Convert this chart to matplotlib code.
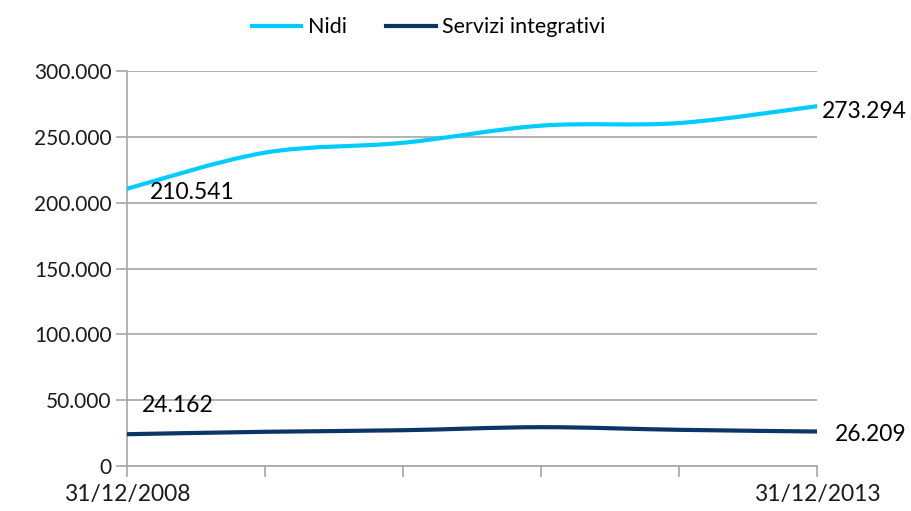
import numpy as np
import matplotlib.pyplot as plt
from matplotlib.path import Path
from matplotlib.patches import PathPatch
from matplotlib.lines import Line2D
import matplotlib.ticker as mtick

anni = ['31/12/2008', '31/12/2009', '31/12/2010', '31/12/2011', '31/12/2012', '31/12/2013']
nidi = [210541, 238000, 245500, 258500, 260500, 273294]
servizi = [24162, 26000, 27200, 29500, 27500, 26209]

col_nidi = '#00CCFF'
col_servizi = '#0B3566'
grigio = '#A6A6A6'

plt.rcParams['font.family'] = ['Lato', 'DejaVu Sans']


def smooth_path(x, y):
    # curva tipo Excel (Catmull-Rom -> Bezier cubiche)
    x = np.asarray(x, float)
    y = np.asarray(y, float)
    pts = np.column_stack([x, y])
    verts = [pts[0]]
    codes = [Path.MOVETO]
    n = len(pts)
    for i in range(n - 1):
        p0 = pts[i - 1] if i > 0 else pts[i]
        p1 = pts[i]
        p2 = pts[i + 1]
        p3 = pts[i + 2] if i + 2 < n else pts[i + 1]
        c1 = p1 + (p2 - p0) / 6
        c2 = p2 - (p3 - p1) / 6
        verts += [c1, c2, p2]
        codes += [Path.CURVE4] * 3
    return Path(verts, codes)


fig = plt.figure(figsize=(9.12, 5.11), dpi=100)
ax = fig.add_axes([0.139, 0.088, 0.757, 0.773])

x = np.arange(len(anni))
for serie, col in [(nidi, col_nidi), (servizi, col_servizi)]:
    ax.add_patch(PathPatch(smooth_path(x, serie), facecolor='none', edgecolor=col,
                           lw=3, capstyle='round', zorder=3))

ax.set_xlim(0, len(anni) - 1)
ax.set_ylim(0, 300000)
ax.set_yticks(np.arange(0, 300001, 50000))
ax.yaxis.set_major_formatter(mtick.FuncFormatter(lambda v, p: f'{v:,.0f}'.replace(',', '.')))
ax.set_xticks(x)
ax.set_xticklabels([a if i in (0, len(anni) - 1) else '' for i, a in enumerate(anni)])

ax.yaxis.grid(True, color=grigio, lw=1.2)
ax.set_axisbelow(True)
for s in ['top', 'right']:
    ax.spines[s].set_visible(False)
for s in ['left', 'bottom']:
    ax.spines[s].set_color(grigio)
    ax.spines[s].set_linewidth(1.2)
ax.tick_params(axis='both', colors=grigio, length=8, width=1.2, labelcolor='#1a1a1a')
ax.tick_params(axis='y', pad=3, labelsize=15)
ax.tick_params(axis='x', pad=5, labelsize=16.5)

# etichette dati
lab = lambda v: f'{v:,}'.replace(',', '.')
fs = 16.5
ax.annotate(lab(nidi[0]), (x[0], nidi[0]), xytext=(16.5, -3), textcoords='offset points',
            ha='left', va='center', fontsize=fs)
ax.annotate(lab(nidi[-1]), (x[-1], nidi[-1]), xytext=(3.5, -3.5), textcoords='offset points',
            ha='left', va='center', fontsize=fs)
ax.annotate(lab(servizi[0]), (x[0], servizi[0]), xytext=(11, 21), textcoords='offset points',
            ha='left', va='center', fontsize=fs)
ax.annotate(lab(servizi[-1]), (x[-1], servizi[-1]), xytext=(13, -2), textcoords='offset points',
            ha='left', va='center', fontsize=fs)

handles = [Line2D([], [], color=col_nidi, lw=3), Line2D([], [], color=col_servizi, lw=3)]
fig.legend(handles, ['Nidi', 'Servizi integrativi'], loc='center', bbox_to_anchor=(0.47, 0.947),
           ncol=2, frameon=False, fontsize=15.5, handlelength=2.3, columnspacing=1.85,
           handletextpad=0.3)

fig.savefig('out.png', dpi=100)
